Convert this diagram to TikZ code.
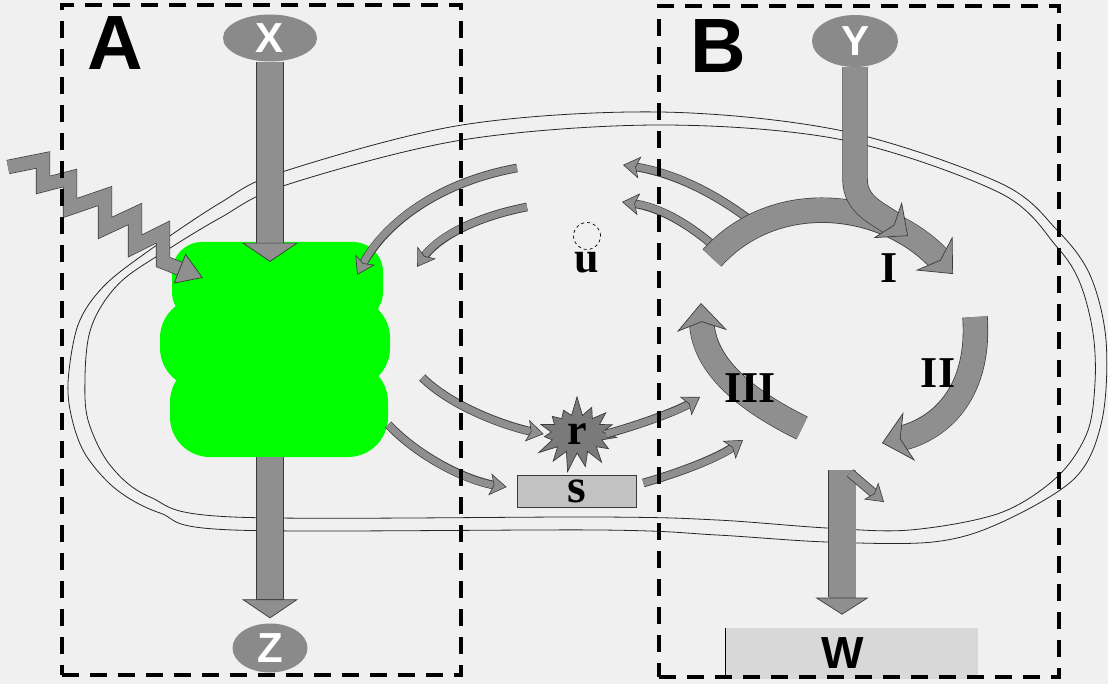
\documentclass[tikz,border=0pt]{standalone}
\usepackage{fontspec}
\setmainfont{Liberation Serif}
\setsansfont{Liberation Sans}
\usetikzlibrary{arrows.meta,shapes.geometric,shapes.symbols,positioning}

\definecolor{paper}{HTML}{F0F0F0}
\definecolor{shaft}{HTML}{8F8F8F}
\definecolor{edge}{HTML}{3A3A3A}
\definecolor{oval}{HTML}{8A8A8A}
\definecolor{leaf}{HTML}{00FF00}
\definecolor{pale}{HTML}{C2C2C2}
\definecolor{palest}{HTML}{D8D8D8}

\tikzset{
  cell/.style={draw=black!85, line width=0.8pt},
  zone/.style={draw=black, line width=3.4pt, dash pattern=on 17pt off 11pt, inner sep=0pt},
  % thick grey arrows with a dark rim
  fat/.style={draw=shaft, line width=#1,
    preaction={draw=edge, line width=#1+1.4pt, arrows=-, shorten >=18pt}},
  fat/.default=25pt,
  slim/.style={draw=shaft, line width=#1,
    preaction={draw=edge, line width=#1+1.6pt, arrows=-, shorten >=10pt},
    -{Stealth[width=22pt,length=17pt,inset=4pt,color=edge,fill=shaft,line width=0.6pt]}},
  slim/.default=7pt,
  fathead/.style={-{Triangle[width=56pt,length=19pt,color=edge,fill=shaft,line width=0.7pt]}},
  bendhead/.style={-{Stealth[width=50pt,length=28pt,inset=9pt,color=edge,fill=shaft,line width=0.7pt]}},
  ovalnode/.style={ellipse, fill=oval, inner sep=0pt, text=white,
    font=\sffamily\bfseries\fontsize{42}{42}\selectfont},
  tag/.style={inner sep=0pt, font=\bfseries\fontsize{44}{44}\selectfont},
  zonetag/.style={inner sep=0pt, font=\sffamily\bfseries\fontsize{77}{77}\selectfont},
  pool/.style={draw=edge, line width=0.7pt, inner sep=0pt, tag},
  burst/.style={starburst, starburst points=15, starburst point height=20pt,
    random starburst=7, fill=black!52, draw=edge, line width=0.7pt,
    minimum width=92pt, minimum height=78pt, inner sep=0pt, tag},
}

\begin{document}
\begin{tikzpicture}[x=1pt,y=1pt]
  \useasboundingbox (0,0) rectangle (1108,-684);
  \fill[paper] (0,0) rectangle (1108,-684);

  % cell envelope (outer and inner membrane)
  \draw[cell] plot[smooth cycle, tension=0.55] coordinates {
    (68,-383) (78,-325) (103,-287) (147,-252) (220,-203) (282,-172)
    (462,-125) (660,-112) (843,-131) (1000,-183) (1057,-230) (1090,-275)
    (1106,-340) (1102,-420) (1075,-478) (1000,-523) (933,-542) (827,-542)
    (717,-535) (600,-530) (233,-530) (160,-513) (117,-490) (87,-457) (73,-423)};
  \draw[cell] plot[smooth cycle, tension=0.55] coordinates {
    (85,-377) (89,-335) (102,-305) (125,-278) (167,-250) (220,-218)
    (286,-185) (462,-140) (660,-125) (843,-140) (1000,-193) (1057,-247)
    (1080,-283) (1093,-333) (1095,-383) (1087,-433) (1057,-477) (1000,-513)
    (910,-530) (827,-528) (717,-520) (600,-517) (233,-517) (150,-497)
    (110,-465) (88,-420)};

  % green complex, three stacked lobes
  \fill[leaf, rounded corners=30pt] (172,-242) rectangle (383,-322);
  \fill[leaf, rounded corners=40pt] (160,-298) rectangle (390,-388);
  \fill[leaf, rounded corners=40pt] (170,-362) rectangle (388,-457);
  \node[inner sep=0pt, minimum width=240pt, minimum height=215pt] (psii) at (270,-349.5) {};

  % pools and inputs/outputs
  \node[ovalnode, minimum width=94pt, minimum height=47pt] (X) at (270,-38) {X};
  \node[ovalnode, minimum width=86pt, minimum height=52pt] (Y) at (855,-41) {Y};
  \node[ovalnode, minimum width=75pt, minimum height=49pt] (Z) at (270,-648) {Z};
  \node[burst] (r) at (577,-434) {r};
  \node[pool, fill=pale, minimum width=119pt, minimum height=32pt,
    font=\bfseries\fontsize{48}{48}\selectfont] (s) at (576.5,-491) {s};
  \node[pool, draw=none, fill=palest, minimum width=252pt, minimum height=51pt,
    label={[xshift=-9pt, inner sep=0pt, font=\sffamily\bfseries\fontsize{45}{45}\selectfont]center:W}]
    (W) at (852,-653.5) {};
  \draw[black, line width=0.8pt] (W.north west) -- (W.south west);
  \node[circle, draw=black, dashed, line width=0.7pt, minimum size=27pt, inner sep=0pt] (u) at (587,-236) {};
  \node[tag] (ulab) at (587,-263) {u};

  % light
  \coordinate (sun) at (8,-167);
  \draw[fat=13pt, line join=miter,
    -{Triangle[width=32pt,length=25pt,color=edge,fill=shaft,line width=0.7pt]}]
    (sun) -- (43,-160) -- (43,-185) -- (70,-178) -- (70,-208) -- (105,-196)
    -- (105,-228) -- (135,-214) -- (135,-246) -- (163,-232) -- (163,-262)
    -- ([shift={(53pt,-36pt)}]psii.north west);

  % through the green complex
  \draw[fat=26pt, fathead] (X) -- ([yshift=-20pt]psii.north);
  \draw[fat=26pt, fathead, shorten >=5pt] (psii.south) -- (Z);

  % small arrows in the middle
  \coordinate (u1) at (517,-168);
  \coordinate (u2) at (527,-207);
  \coordinate (c1) at (750,-220);
  \coordinate (c2) at (715,-247);
  \coordinate (u3) at (623,-165);
  \coordinate (u4) at (622,-202);
  \coordinate (rin) at (700,-397);
  \coordinate (sin) at (743,-440);
  \draw[slim] (u1) .. controls (440,-182) and (385,-222) .. ([shift={(-33pt,-33pt)}]psii.north east);
  \draw[slim] (u2) .. controls (470,-218) and (435,-240) .. ([shift={(27pt,-25pt)}]psii.north east);
  \draw[slim] (c1) .. controls (710,-190) and (670,-172) .. (u3);
  \draw[slim] (c2) .. controls (690,-225) and (660,-207) .. (u4);
  \draw[slim] ([shift={(32pt,-28pt)}]psii.east) .. controls +(28,-28) and +(-40,8) .. ([xshift=-4pt]r.west);
  \draw[slim] ([shift={(-2pt,-75pt)}]psii.east) .. controls +(30,-32) and +(-40,6) .. ([shift={(-10pt,4pt)}]s.west);
  \draw[slim] ([xshift=-3pt]r.east) .. controls +(30,8) and +(-22,-14) .. (rin);
  \draw[slim] ([shift={(7pt,8pt)}]s.east) .. controls +(35,10) and +(-25,-18) .. (sin);

  % the cycle
  \coordinate (Ia) at (712,-258);
  \coordinate (Ib) at (953,-274);
  \coordinate (IIa) at (975,-317);
  \coordinate (IIb) at (882,-443);
  \coordinate (IIIa) at (802,-428);
  \coordinate (IIIb) at (701,-303);
  \draw[fat=24pt, bendhead] (Ia) .. controls (775,-188) and (885,-200) .. (Ib);
  \draw[fat=24pt, bendhead] (IIa) .. controls (980,-388) and (945,-428) .. (IIb);
  \draw[fat=24pt, bendhead] (IIIa) .. controls (735,-395) and (703,-360) .. (IIIb);
  \coordinate (Yin) at (908,-236);
  \draw[fat=24pt, -{Stealth[width=46pt,length=26pt,inset=8pt,color=edge,fill=shaft,line width=0.7pt]}]
    (Y.south) -- ++(0,-112) .. controls +(0,-27) and +(-28,22) .. (Yin);
  \node[tag] (one) at (889,-268) {I};
  \node[tag] (two) at (938,-373) {II};
  \node[tag] (three) at (750,-388) {III};

  % out to W
  \coordinate (wout) at (842,-470);
  \coordinate (wside) at (884,-502);
  \draw[fat=27pt, -{Triangle[width=53pt,length=17pt,color=edge,fill=shaft,line width=0.7pt]}]
    (wout) -- ([yshift=13pt]wout |- W.north);
  \draw[slim=8pt] ([xshift=8pt,yshift=-3pt]wout) -- (wside);

  % the two compartments
  \node[zone, minimum width=399pt, minimum height=670pt] (zoneA) at (261.5,-340) {};
  \node[zone, minimum width=400pt, minimum height=671pt] (zoneB) at (859,-341.5) {};
  \node[zonetag] (labA) at (115,-43) {A};
  \node[zonetag] (labB) at (718,-46) {B};
\end{tikzpicture}
\end{document}
